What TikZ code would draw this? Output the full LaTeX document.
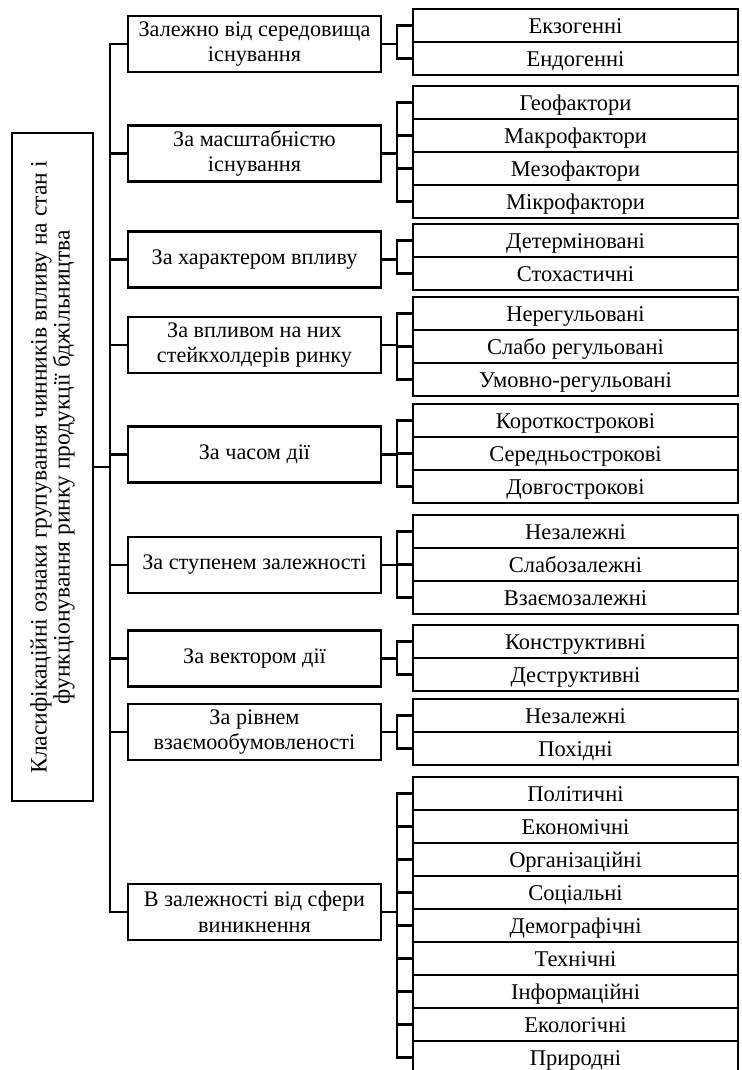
\documentclass[tikz,border=0pt]{standalone}
\usepackage{fontspec}
\setmainfont{Liberation Serif}
\begin{document}
\begin{tikzpicture}[x=1pt,y=-1pt,
  lw/.style={line width=2.6pt},
  mid/.style={draw,lw,minimum width=253pt,minimum height=56pt,inner sep=1pt,align=center,font=\fontsize{22.2}{25.5}\selectfont},
  cell/.style={draw,lw,minimum width=325pt,minimum height=33pt,inner sep=0pt,text height=18pt,text depth=2.5pt,font=\fontsize{22.5}{25}\selectfont},
  conn/.style={lw,line cap=rect,line join=miter}]
\useasboundingbox (0,0) rectangle (741,1070);
\coordinate (spx) at (110,0);
\coordinate (bx) at (397,0);
% left box
\node[draw,lw,minimum width=81pt,minimum height=668pt,inner sep=0pt] (L) at (52.5,467) {};
\node[rotate=90,align=center,inner sep=0pt,font=\fontsize{23.5}{23}\selectfont] (Lt) at (L.center)
  {Класифікаційні ознаки групування чинників впливу на стан і\\функціонування ринку продукції бджільництва};
% middle boxes
\foreach \g/\y/\txt in {
  1/44/{Залежно від середовища\\існування},
  2/153.5/{За масштабністю\\існування},
  3/259.5/{За характером впливу},
  4/345/{За впливом на них\\стейкхолдерів ринку},
  5/454.5/{За часом дії},
  6/565/{За ступенем залежності},
  7/658.5/{За вектором дії},
  8/732/{За рівнем\\взаємообумовленості},
  9/912/{В залежності від сфери\\виникнення}}
  {\node[mid] (m\g) at (254.5,\y) {\txt};}
% right cells
\foreach \g/\t/\n/\l in {
  1/9/2/{Екзогенні,Ендогенні},
  2/86/4/{Геофактори,Макрофактори,Мезофактори,Мікрофактори},
  3/224/2/{Детерміновані,Стохастичні},
  4/297/3/{Нерегульовані,Слабо регульовані,Умовно-регульовані},
  5/404/3/{Короткострокові,Середньострокові,Довгострокові},
  6/515/3/{Незалежні,Слабозалежні,Взаємозалежні},
  7/625/2/{Конструктивні,Деструктивні},
  8/699/2/{Незалежні,Похідні},
  9/777/9/{Політичні,Економічні,Організаційні,Соціальні,Демографічні,Технічні,Інформаційні,Екологічні,Природні}}
{
  \foreach \nm [count=\k] in \l
    {\node[cell] (r\g-\k) at (575.5,{\t+33*(\k-0.5)}) {\nm};}
  \draw[conn] (m\g.east) -- (bx |- m\g.east);
  \draw[conn] (bx |- r\g-1.west) -- (bx |- r\g-\n.west);
  \foreach \k in {1,...,\n}
    {\draw[conn] (bx |- r\g-\k.west) -- (r\g-\k.west);}
}
% spine
\draw[conn] (m1.west) -| (spx |- m9.west) -- (m9.west);
\foreach \g in {2,...,8}
  {\draw[conn] (m\g.west) -- (spx |- m\g.west);}
\draw[conn] (L.east) -- (spx |- L.east);
\end{tikzpicture}
\end{document}
